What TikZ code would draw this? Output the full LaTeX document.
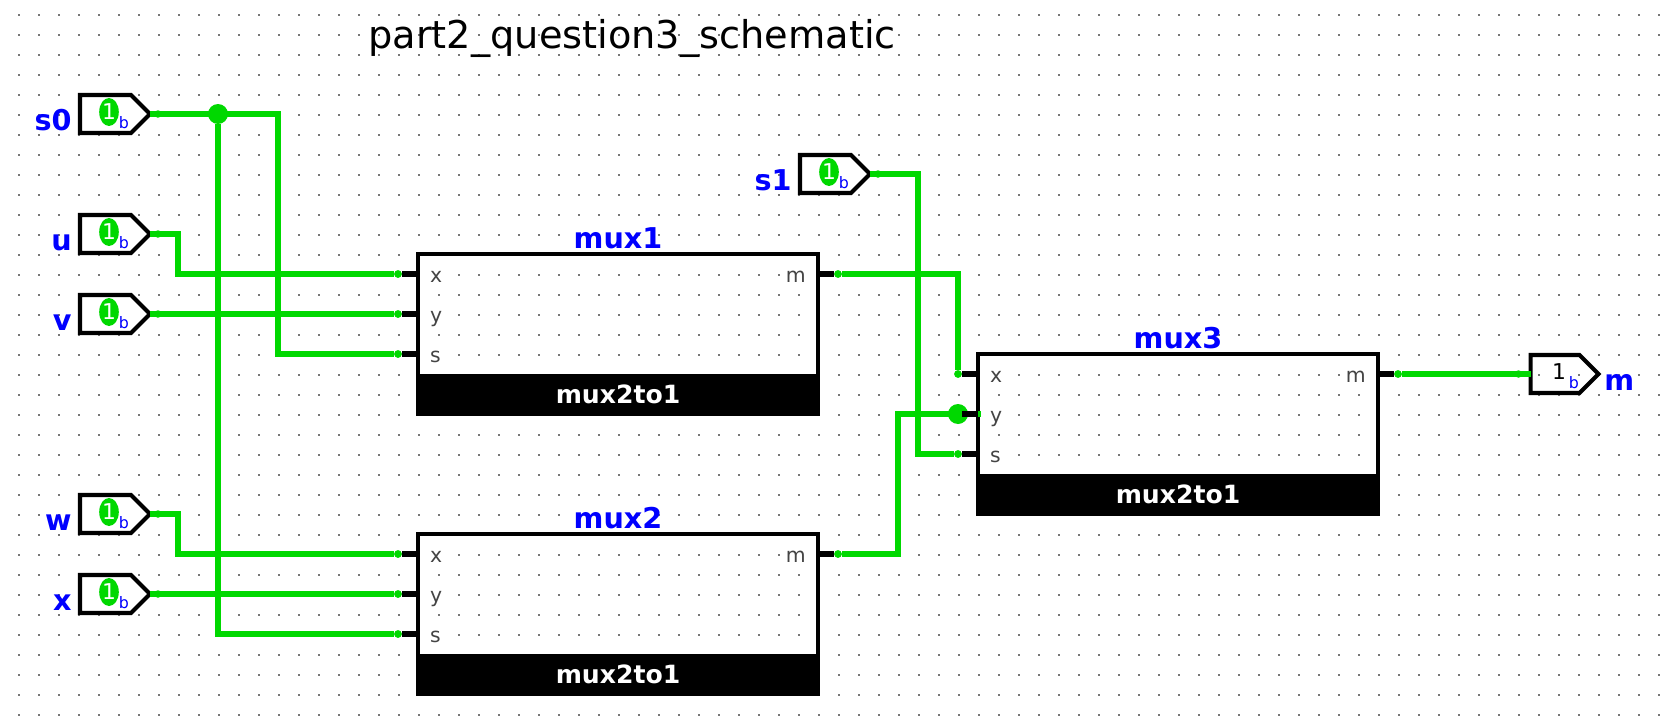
\documentclass[tikz,border=0pt]{standalone}
\usepackage{fontspec}
\setmainfont{DejaVu Sans}
\usetikzlibrary{shapes.symbols,shapes.geometric}
\definecolor{wiregreen}{HTML}{00D800}
\definecolor{griddot}{HTML}{777777}
\definecolor{pintext}{HTML}{444444}
\tikzset{
  wire/.style={draw=wiregreen,line width=3pt},
  stub/.style={draw=black,line width=3.1pt},
  pindot/.style={circle,fill=wiregreen,inner sep=0,minimum size=0.15cm},
  junction/.style={circle,fill=wiregreen,inner sep=0,minimum size=0.40cm},
  muxbox/.style={draw=black,line width=2.3pt,minimum width=8cm,minimum height=3.2cm,outer sep=0},
  muxband/.style={fill=black,text=white,font=\fontsize{14.3}{16}\selectfont\bfseries,minimum width=8cm,minimum height=0.8cm,outer sep=0,inner sep=0},
  bluelabel/.style={text=blue,font=\fontsize{16.3}{18}\selectfont\bfseries,inner sep=0},
  pinname/.style={text=pintext,fill=white,font=\fontsize{11.6}{13}\selectfont,inner sep=0.5pt},
  inpin/.style={signal,signal to=east,signal pointer angle=90,draw=black,fill=white,line width=2.3pt,minimum width=1.4cm,minimum height=0.76cm,inner sep=0,outer sep=0},
  outpin/.style={signal,signal to=east,signal pointer angle=90,draw=black,line width=2.3pt,minimum width=1.36cm,minimum height=0.76cm,inner sep=0,outer sep=0},
  oneoval/.style={ellipse,fill=wiregreen,text=white,font=\fontsize{12.4}{14}\selectfont,inner sep=0,minimum width=0.36cm,minimum height=0.56cm},
  bitlabel/.style={text=blue,font=\fontsize{9}{10}\selectfont,inner sep=0},
}
\begin{document}
\begin{tikzpicture}[x=0.02cm,y=-0.02cm]
\useasboundingbox (0,0) rectangle (1660,720);
% dotted grid
\foreach \gx in {19,39,...,1659} {
  \foreach \gy in {15,35,...,715} {
    \fill[griddot] (\gx-1,\gy-1) rectangle ++(2,2);
  }
}
\node[anchor=base west,inner sep=0,font=\fontsize{21.8}{24}\selectfont] (title) at (368,49) {part2\_question3\_schematic};
% multiplexers
\foreach \mname/\mx/\my in {mux1/618/334,mux2/618/614,mux3/1178/434} {
  \node[muxbox] (\mname) at (\mx,\my) {};
  \node[muxband,anchor=south] (\mname band) at (\mname.south) {mux2to1};
  \node[bluelabel,anchor=base] (\mname label) at ([yshift=0.12cm]\mname.north) {\mname};
  \foreach \pinnm/\dy in {x/-60,y/-20,s/20} {
    \node[pinname,anchor=base west] (\mname\pinnm text) at (\mx-189,\my+\dy+8) {\pinnm};
    \node[pindot] (\mname\pinnm) at (\mx-220,\my+\dy) {};
    \draw[stub] (\mname\pinnm) -- (\mname\pinnm -| \mname.west);
    \node[pindot] at (\mname\pinnm) {};
  }
  \node[pinname,anchor=base east] (\mname mtext) at (\mx+189,\my-52) {m};
  \node[pindot] (\mname m) at (\mx+220,\my-60) {};
  \draw[stub] (\mname m) -- (\mname m -| \mname.east);
  \node[pindot] at (\mname m) {};
}
% input pins
\foreach \pname/\px/\py in {s0/105.5/114,u/105.5/234,v/105.5/314,w/105.5/514,x/105.5/594,s1/825.5/174} {
  \node[inpin] (\pname) at (\px,\py) {};
  \node[oneoval] (\pname one) at (\px+3.5,\py-2) {1};
  \node[bitlabel,anchor=base] (\pname bit) at (\px+18.5,\py+14) {b};
  \node[bluelabel,anchor=base east] (\pname label) at (\px-33.5,\py+16) {\pname};
  \node[pindot] (\pname dot) at ([xshift=0.16cm]\pname.east) {};
}
% output pin
\node[outpin] (outm) at (1555,374) {};
\node[anchor=base,inner sep=0,fill=white,font=\fontsize{12.4}{14}\selectfont] (outmone) at (1559,379) {1};
\node[bitlabel,anchor=base] (outmbit) at (1574,388) {b};
\node[bluelabel,anchor=base west] (outmlabel) at (1604,390) {m};
\node[pindot] (outmdot) at ([xshift=-0.24cm]outm.west) {};
% wires
\node[junction] (j0) at (218,114) {};
\draw[wire] (s0.east) -- ++(128,0) |- (mux1s);
\draw[wire] (j0) |- (mux2s);
\draw[wire] (u.east) -- ++(28,0) |- (mux1x);
\draw[wire] (v.east) -- (mux1y);
\draw[wire] (w.east) -- ++(28,0) |- (mux2x);
\draw[wire] (x.east) -- (mux2y);
\draw[wire] (s1.east) -- ++(48,0) |- (mux3s);
\draw[wire] (mux1m) -| (mux3x);
\draw[wire] (mux2m) -- ++(60,0) |- ([xshift=0.06cm]mux3y -| mux3.west);
\draw[wire] (mux3m) -- (outm.west);
% y input of mux3 joins on the stub
\node[junction] (j1) at (mux3y) {};
\draw[stub] (mux3y) -- (mux3y -| mux3.west);
\end{tikzpicture}
\end{document}
